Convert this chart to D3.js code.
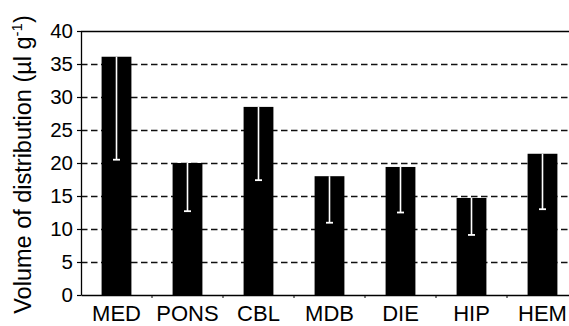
<!DOCTYPE html>
<html><head><meta charset="utf-8">
<script src="https://cdn.jsdelivr.net/npm/d3@7"></script>
<style>html,body{margin:0;padding:0;background:#fff;}svg{display:block;}</style>
</head><body>
<script>
const categories = ["MED","PONS","CBL","MDB","DIE","HIP","HEM"];
const values = [36.1, 20.0, 28.5, 18.0, 19.4, 14.7, 21.4];
const lowerErr = [20.5, 12.7, 17.4, 10.95, 12.5, 9.1, 13.0];
const yTicks = [0,5,10,15,20,25,30,35,40];

const W = 569, H = 326;
const m = {left:81, top:31, right:-9, bottom:31};
const svg = d3.select("body").append("svg").attr("width",W).attr("height",H);
const font = "Liberation Sans, Arial, Helvetica, sans-serif";

const x = d3.scaleBand().domain(categories).range([m.left, W - m.right]).paddingInner(0.58).paddingOuter(0.29);
const y = d3.scaleLinear().domain([0,40]).range([H - m.bottom, m.top]);

// gridlines
svg.append("g").selectAll("line").data(yTicks.filter(d=>d>0 && d<40)).join("line")
  .attr("x1", m.left).attr("x2", W).attr("y1", d=>y(d)+0.5).attr("y2", d=>y(d)+0.5)
  .attr("stroke","#111").attr("stroke-width",1.3).attr("stroke-dasharray","6.5,3.5");

// top border
svg.append("line").attr("x1",m.left).attr("x2",W).attr("y1",y(40)+0.5).attr("y2",y(40)+0.5)
  .attr("stroke","#000").attr("stroke-width",1.3);

// bars
svg.append("g").selectAll("rect").data(categories).join("rect")
  .attr("x", d=>x(d)).attr("width", x.bandwidth())
  .attr("y", (d,i)=>y(values[i])).attr("height", (d,i)=>y(0)-y(values[i]))
  .attr("fill","#000");

// error bars (white, downward)
const eg = svg.append("g");
categories.forEach((c,i)=>{
  const cx = x(c) + x.bandwidth()/2;
  eg.append("line").attr("x1",cx).attr("x2",cx).attr("y1",y(values[i])).attr("y2",y(lowerErr[i]))
    .attr("stroke","#fff").attr("stroke-width",1.6);
  eg.append("line").attr("x1",cx-3.5).attr("x2",cx+3.5).attr("y1",y(lowerErr[i])).attr("y2",y(lowerErr[i]))
    .attr("stroke","#fff").attr("stroke-width",1.8);
});

// y axis
const ya = svg.append("g").attr("transform",`translate(${m.left},0)`)
  .call(d3.axisLeft(y).tickValues(yTicks).tickSize(4).tickPadding(4).tickSizeOuter(0));
ya.select(".domain").attr("stroke","#000").attr("stroke-width",1.3);
ya.selectAll(".tick line").attr("stroke","#000").attr("stroke-width",1.2);
ya.selectAll("text").attr("font-family",font).attr("font-size",20.5).attr("fill","#000");

// x axis
const xa = svg.append("g").attr("transform",`translate(0,${y(0)})`)
  .call(d3.axisBottom(x).tickSize(0).tickPadding(10.3).tickSizeOuter(0));
xa.select(".domain").attr("stroke","#000").attr("stroke-width",1.3);
xa.selectAll("text").attr("font-family",font).attr("font-size",22).attr("fill","#000");
// category boundary ticks
const step = x.step();
svg.append("g").selectAll("line").data(d3.range(1,categories.length)).join("line")
  .attr("x1", d=>m.left + d*step).attr("x2", d=>m.left + d*step)
  .attr("y1", y(0)).attr("y2", y(0)+3).attr("stroke","#000").attr("stroke-width",1);

// y label
const yl = svg.append("text").attr("transform",`translate(31,${(m.top+H)/2 - 14}) rotate(-90)`)
  .attr("text-anchor","middle").attr("font-family",font).attr("font-size",23.5).attr("fill","#000");
yl.append("tspan").text("Volume of distribution (µl g");
yl.append("tspan").attr("dy",-9).attr("font-size",15).text("-1");
yl.append("tspan").attr("dy",9).text(")");
</script>
</body></html>
